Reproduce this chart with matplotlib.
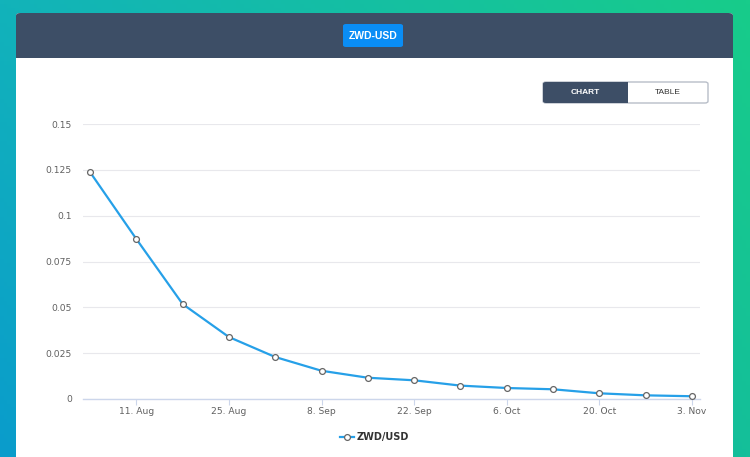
import matplotlib
matplotlib.use("Agg")
import matplotlib.pyplot as plt
import matplotlib.dates as mdates
from matplotlib.patches import FancyBboxPatch, Rectangle
import numpy as np
from datetime import datetime

# ---- data ----
dates = ["2008-08-04", "2008-08-11", "2008-08-18", "2008-08-25", "2008-09-01",
         "2008-09-08", "2008-09-15", "2008-09-22", "2008-09-29", "2008-10-06",
         "2008-10-13", "2008-10-20", "2008-10-27", "2008-11-03"]
values = [0.1238, 0.0873, 0.0518, 0.0338, 0.0229, 0.0154, 0.0116, 0.0102,
          0.0073, 0.0060, 0.0053, 0.0031, 0.0020, 0.0015]
tick_dates = ["2008-08-11", "2008-08-25", "2008-09-08", "2008-09-22",
              "2008-10-06", "2008-10-20", "2008-11-03"]
tick_labels = ["11. Aug", "25. Aug", "8. Sep", "22. Sep", "6. Oct", "20. Oct", "3. Nov"]
y_ticks = [0, 0.025, 0.05, 0.075, 0.1, 0.125, 0.15]
y_labels = ["0", "0.025", "0.05", "0.075", "0.1", "0.125", "0.15"]
series_name = "ZWD/USD"
title_button = "ZWD-USD"

plt.rcParams['font.family'] = ['DejaVu Sans']

W, H = 750, 457
fig = plt.figure(figsize=(W / 100, H / 100), dpi=100)

def fx(x): return x / W
def fy(y): return 1 - y / H

# ---- background gradient ----
bg = fig.add_axes([0, 0, 1, 1])
bg.set_axis_off()
tl = np.array([0x12, 0xb3, 0xba]) / 255
bl = np.array([0x0a, 0x9c, 0xcc]) / 255
tr = np.array([0x18, 0xcc, 0x8a]) / 255
br = np.array([0x14, 0xbf, 0x9a]) / 255
u = np.linspace(0, 1, 200)[None, :, None]
v = np.linspace(0, 1, 120)[:, None, None]
img = (1 - u) * ((1 - v) * tl + v * bl) + u * ((1 - v) * tr + v * br)
bg.imshow(img, extent=[0, 1, 0, 1], aspect='auto', origin='upper')
bg.set_xlim(0, 1)
bg.set_ylim(0, 1)

# card
card = FancyBboxPatch((fx(16), -0.05), fx(733) - fx(16), fy(13) + 0.05,
                      boxstyle="round,pad=0,rounding_size=0.006",
                      transform=bg.transAxes, facecolor="white", edgecolor="none")
bg.add_patch(card)
header = FancyBboxPatch((fx(16), fy(58)), fx(733) - fx(16), fy(13) - fy(58),
                        boxstyle="round,pad=0,rounding_size=0.006",
                        transform=bg.transAxes, facecolor="#3d4e66", edgecolor="none")
bg.add_patch(header)
bg.add_patch(Rectangle((fx(16), fy(58)), fx(733) - fx(16), fy(45) - fy(58),
                       transform=bg.transAxes, facecolor="#3d4e66", edgecolor="none"))
# title button
btn = FancyBboxPatch((fx(343), fy(47)), fx(403) - fx(343), fy(24) - fy(47),
                     boxstyle="round,pad=0,rounding_size=0.004",
                     transform=bg.transAxes, facecolor="#0a8df5", edgecolor="none")
bg.add_patch(btn)
bg.text(fx(373), fy(36), title_button, color="white", fontsize=7.5, fontweight='bold',
        family='Liberation Sans', ha='center', va='center', transform=bg.transAxes)

# chart/table toggle
tog = FancyBboxPatch((fx(543), fy(103)), fx(708) - fx(543), fy(82) - fy(103),
                     boxstyle="round,pad=0,rounding_size=0.004",
                     transform=bg.transAxes, facecolor="white", edgecolor="#b8bec8", linewidth=1)
bg.add_patch(tog)
chart_btn = FancyBboxPatch((fx(543), fy(103)), fx(628) - fx(543), fy(82) - fy(103),
                           boxstyle="round,pad=0,rounding_size=0.004",
                           transform=bg.transAxes, facecolor="#3d4e66", edgecolor="none")
bg.add_patch(chart_btn)
bg.add_patch(Rectangle((fx(610), fy(103)), fx(628) - fx(610), fy(82) - fy(103),
                       transform=bg.transAxes, facecolor="#3d4e66", edgecolor="none"))
bg.text(fx(585.5), fy(93), "CHART", color="white", fontsize=6, fontweight='bold',
        family='Liberation Sans', ha='center', va='center', transform=bg.transAxes)
bg.text(fx(668), fy(93), "TABLE", color="#333333", fontsize=6,
        family='Liberation Sans', ha='center', va='center', transform=bg.transAxes)

# ---- chart ----
xd = [datetime.strptime(d, "%Y-%m-%d") for d in dates]
xt = [datetime.strptime(d, "%Y-%m-%d") for d in tick_dates]
ax = fig.add_axes([fx(83), fy(399), fx(700) - fx(83), fy(124) - fy(399)])
ax.patch.set_alpha(0)
ax.plot(xd, values, color="#26a0e8", linewidth=1.6, marker='o', markersize=4.2,
        markerfacecolor='white', markeredgecolor='#666666', markeredgewidth=0.9,
        zorder=3, clip_on=False)
xn = mdates.date2num(xd)
wk = 7.0
ax.set_xlim(xn[0] - 0.151 * wk, xn[-1] + 0.173 * wk)
ax.set_ylim(0, 0.15)
ax.set_yticks(y_ticks)
ax.set_yticklabels(y_labels)
ax.set_xticks(mdates.date2num(xt))
ax.set_xticklabels(tick_labels)
ax.grid(axis='y', color='#e8e8ec', linewidth=0.8)
ax.set_axisbelow(True)
for s in ['top', 'right', 'left']:
    ax.spines[s].set_visible(False)
ax.spines['bottom'].set_color('#ccd6eb')
ax.spines['bottom'].set_linewidth(1)
ax.tick_params(axis='y', length=0, pad=8, labelsize=6.6, labelcolor='#606060')
ax.tick_params(axis='x', length=4, width=0.8, color='#ccd6eb', pad=2,
               labelsize=6.6, labelcolor='#606060')

# legend
leg_y = fy(437)
bg.plot([fx(340), fx(354)], [leg_y, leg_y], color="#26a0e8", linewidth=1.6,
        transform=bg.transAxes)
bg.plot([fx(347)], [leg_y], marker='o', markersize=4.2, markerfacecolor='white',
        markeredgecolor='#666666', markeredgewidth=0.9, transform=bg.transAxes)
bg.text(fx(357), leg_y, series_name, color="#333333", fontsize=7, fontweight='bold',
        ha='left', va='center', transform=bg.transAxes)

fig.savefig("out.png", dpi=100)
